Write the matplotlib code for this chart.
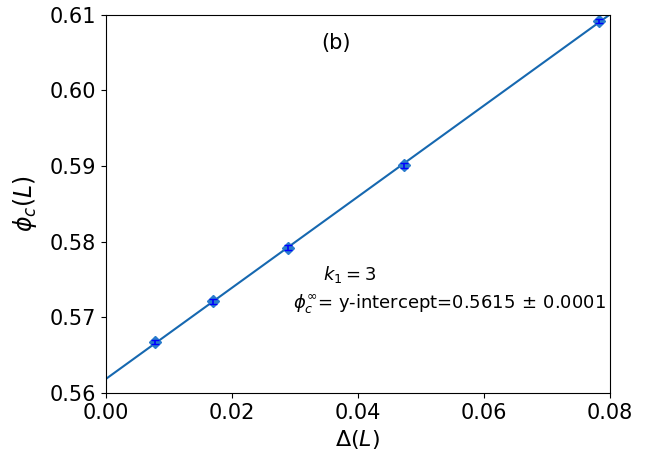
import matplotlib.pyplot as plt
import numpy as np

delta_L = [0.0078, 0.0170, 0.0289, 0.0474, 0.0783]
phi_c = [0.5667, 0.5721, 0.5792, 0.5901, 0.6092]
phi_err = [0.0003, 0.0003, 0.0003, 0.0003, 0.0003]

slope, intercept = np.polyfit(delta_L, phi_c, 1)
x_fit = np.linspace(0, 0.08, 50)

fig, ax = plt.subplots(figsize=(6.46, 4.5), dpi=100)
ax.plot(x_fit, slope * x_fit + intercept, color='#1668b0', lw=1.5, zorder=1)
ax.plot(delta_L, phi_c, 'D', color='#2a7ccc', ms=6, zorder=2)
ax.errorbar(delta_L, phi_c, yerr=phi_err, fmt='none',
            ecolor='blue', capsize=3, elinewidth=1.2, zorder=3)

ax.set_xlim(0, 0.08)
ax.set_ylim(0.56, 0.61)
ax.set_xticks([0.0, 0.02, 0.04, 0.06, 0.08])
ax.set_xticklabels(["0.00", "0.02", "0.04", "0.06", "0.08"])
ax.set_yticks([0.56, 0.57, 0.58, 0.59, 0.60, 0.61])
ax.set_yticklabels(["0.56", "0.57", "0.58", "0.59", "0.60", "0.61"])
ax.tick_params(labelsize=15)
ax.set_xlabel(r"$\Delta(L)$", fontsize=16)
ax.set_ylabel(r"$\phi_c(L)$", fontsize=17, labelpad=8)

ax.text(0.0365, 0.6063, "(b)", fontsize=15, ha='center', va='center')
ax.text(0.0387, 0.5757, r"$k_1 = 3$", fontsize=13, ha='center', va='center')
ax.text(0.0297, 0.5718, r"$\phi_c^{\infty}$= y-intercept=0.5615$\,\pm\,$0.0001",
        fontsize=13, ha='left', va='center')

fig.subplots_adjust(left=0.164, right=0.944, top=0.967, bottom=0.127)
plt.savefig("out.png")
